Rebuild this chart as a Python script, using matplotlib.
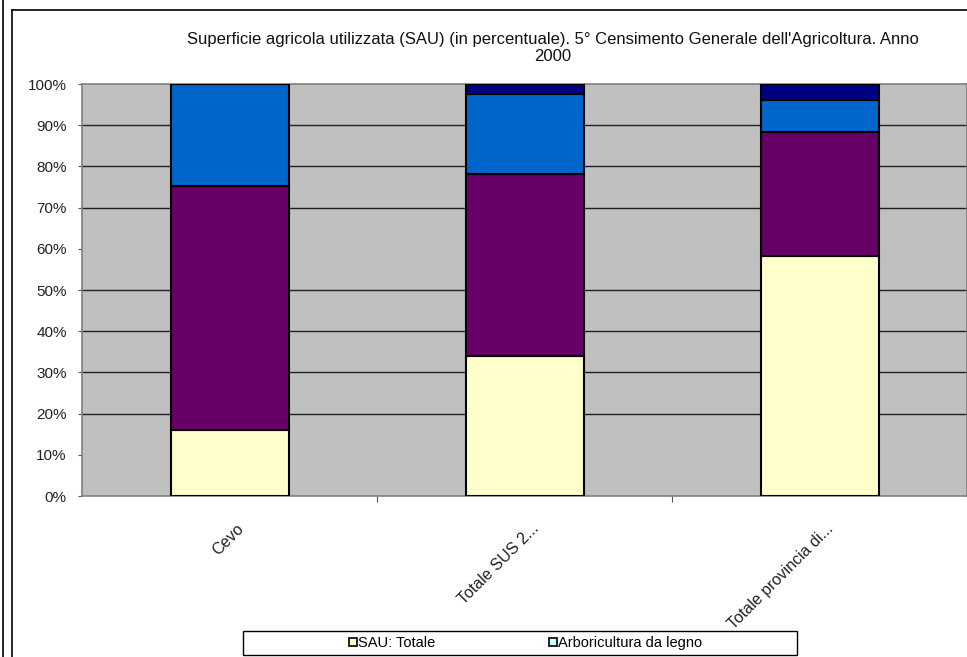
#!/usr/bin/env python

'''
SAU 100% stacked columns, 5th Censimento Generale dell'Agricoltura 2000
'''

import matplotlib
matplotlib.use('Agg')
import matplotlib.pyplot as plt
from matplotlib.patches import Patch, Rectangle
from matplotlib.lines import Line2D

plt.rcParams['font.family'] = ['Liberation Sans', 'DejaVu Sans']

TITLE = ("Superficie agricola utilizzata (SAU) (in percentuale). 5\u00b0 Censimento "
         "Generale dell'Agricoltura. Anno\n2000")
CATEGORIES = ['Cevo', 'Totale SUS 2...', 'Totale provincia di...']

# percent shares, bottom to top
SAU_TOTALE = [16.0, 34.1, 58.3]
SERIE_2 = [59.3, 44.1, 30.0]
SERIE_3 = [24.7, 19.4, 7.9]
ARBORICOLTURA = [0.0, 2.4, 3.8]

SERIES = [SAU_TOTALE, SERIE_2, SERIE_3, ARBORICOLTURA]
COLORS = ['#FFFFCC', '#660066', '#0066CC', '#000080']

GRID_VALUES = [20, 30, 40, 50, 70, 80, 90]
YTICKS = [0, 10, 20, 30, 40, 50, 60, 70, 80, 90, 100]

LEGEND_LABELS = ['SAU: Totale', 'Arboricultura da legno']
LEGEND_COLORS = ['#FFFFCC', '#CCFFFF']

W, H = 967, 657
fig = plt.figure(figsize=(W / 100, H / 100), dpi=100)
ax = fig.add_axes([82 / W, 1 - 496 / H, (W - 82) / W, (496 - 84) / H])
ax.set_facecolor('#C0C0C0')

x = range(len(CATEGORIES))
bottom = [0.0] * len(CATEGORIES)
for vals, col in zip(SERIES, COLORS):
    ax.bar(x, vals, bottom=bottom, width=0.4, color=col,
           edgecolor='black', linewidth=1.5, zorder=3)
    bottom = [b + v for b, v in zip(bottom, vals)]

for g in GRID_VALUES:
    ax.axhline(g, color='#202020', linewidth=1.0, zorder=1)

ax.set_xlim(-0.5, 2.5)
ax.set_ylim(0, 100)
ax.set_yticks(YTICKS)
ax.set_yticklabels(['%d%%' % v for v in YTICKS], fontsize=11, color='#222222')
ax.tick_params(axis='y', length=3, width=0.8, color='#555555', pad=8)

ax.set_xticks([0.5, 1.5], minor=False)
ax.set_xticklabels([])
ax.tick_params(axis='x', length=4, width=0.8, color='#555555')
for i, lab in enumerate(CATEGORIES):
    ax.annotate(lab, xy=(i, 0), xycoords=('data', 'axes fraction'),
                xytext=(12, -30), textcoords='offset pixels',
                rotation=45, ha='right', va='center', rotation_mode='anchor',
                fontsize=11.5, color='#222222', annotation_clip=False)

for side in ['top', 'left', 'right', 'bottom']:
    ax.spines[side].set_color('#808080')
    ax.spines[side].set_linewidth(1.2)

fig.text(553 / W, 1 - 48 / H, TITLE, ha='center', va='center', fontsize=12,
         linespacing=1.15, color='#111111')

# legend frame and entries
fig.patches.append(Rectangle((243 / W, 1 - 655 / H), (797 - 243) / W, 24 / H,
                             transform=fig.transFigure, facecolor='white',
                             edgecolor='black', linewidth=1.0))
handles = [Patch(facecolor=c, edgecolor='black', linewidth=1.2) for c in LEGEND_COLORS]
fig.legend(handles, LEGEND_LABELS, loc='center', bbox_to_anchor=(526 / W, 1 - 643 / H),
           ncol=2, frameon=False, fontsize=10.5, handlelength=0.5, handleheight=0.5,
           handletextpad=0.12, columnspacing=7.8)

# outer chart borders
fig.add_artist(Line2D([2.5 / W, 2.5 / W], [0, 1], color='black', linewidth=1.2))
fig.add_artist(Line2D([12 / W, 12 / W], [0, 1 - 10 / H], color='black', linewidth=1.2))
fig.add_artist(Line2D([12 / W, 1], [1 - 10 / H, 1 - 10 / H], color='black', linewidth=1.2))

fig.savefig('out.png', dpi=100)
plt.close(fig)
